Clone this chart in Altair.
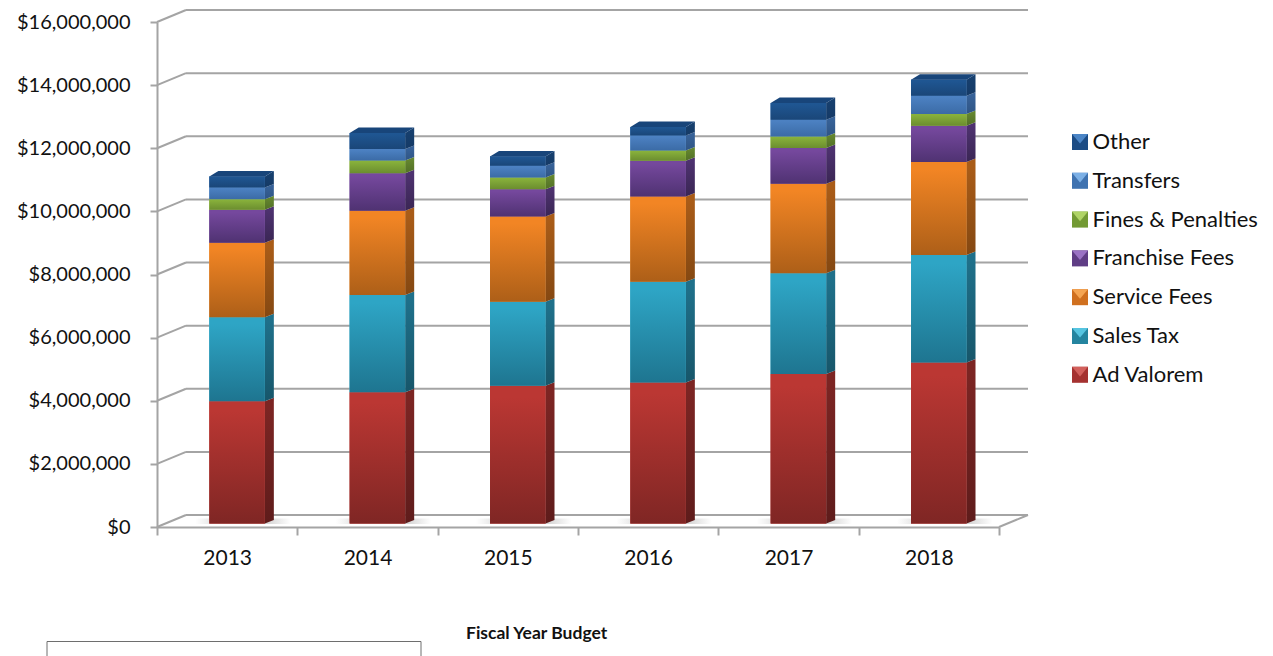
import altair as alt
import pandas as pd

YEARS = ["2013", "2014", "2015", "2016", "2017", "2018"]

AD_VALOREM = [3880000, 4165000, 4365000, 4473000, 4737000, 5108000]
SALES_TAX = [2655000, 3077000, 2665000, 3192000, 3193000, 3404000]
SERVICE_FEES = [2365000, 2674000, 2697000, 2695000, 2835000, 2941000]
FRANCHISE_FEES = [1040000, 1187000, 869000, 1134000, 1132000, 1152000]
FINES_PENALTIES = [340000, 400000, 368000, 326000, 368000, 371000]
TRANSFERS = [370000, 365000, 372000, 477000, 530000, 581000]
OTHER = [350000, 508000, 294000, 266000, 530000, 507000]

# series from the bottom of the stack upwards:
# name, values, front top, front bottom, side top, side bottom, legend base, legend highlight
SERIES = [
    ("Ad Valorem", AD_VALOREM, "#bb3733", "#7f2624", "#7c2523", "#5e1c1b", "#a53230", "#d2605c"),
    ("Sales Tax", SALES_TAX, "#2ea5c5", "#1e7590", "#1f708a", "#17566a", "#24849f", "#56c4e0"),
    ("Service Fees", SERVICE_FEES, "#f28524", "#ad5f18", "#a95c18", "#844812", "#d0701f", "#f5a552"),
    ("Franchise Fees", FRANCHISE_FEES, "#75489d", "#4f3272", "#4e3270", "#3a2654", "#5f3d85", "#9a72c4"),
    ("Fines & Penalties", FINES_PENALTIES, "#88b13b", "#6b8d2f", "#668830", "#527026", "#739a34", "#b0d466"),
    ("Transfers", TRANSFERS, "#4c81c2", "#3b6ba6", "#38639a", "#2f5585", "#3f72b0", "#7cb0e6"),
    ("Other", OTHER, "#1f5692", "#1a4678", "#17406f", "#153a66", "#1c4c85", "#4b85c6"),
]

PLOT_W, PLOT_H = 842, 505
Y_MAX = 16000000
PX_X = 6 / PLOT_W          # category units per pixel
PX_Y = Y_MAX / PLOT_H      # dollars per pixel

FONT = "Lato"
GRID = "#a4a4a4"
TICKS = list(range(0, Y_MAX + 1, 2000000))

x_scale = alt.Scale(domain=[0, 6], range=[0, PLOT_W], nice=False, zero=False)
y_scale = alt.Scale(domain=[0, Y_MAX], nice=False, zero=False)
y_axis = alt.Axis(title=None, values=TICKS, format="$,.0f", tickSize=7,
                  tickColor=GRID, tickWidth=2, domainColor=GRID, domainWidth=2,
                  labelFont=FONT, labelFontSize=20, labelColor="#111111",
                  labelPadding=20, grid=False)

# wall depth of the chart box
WALL_DX = 29 * PX_X
WALL_DY = 12 * PX_Y

# bar geometry
BAR_START = 0.373
BAR_W = 55.5 * PX_X
SIDE_DX = 9 * PX_X
SIDE_DY = 3.5 * PX_Y
TOP_DY = 5.5 * PX_Y
FLOOR_LIFT = 3.4 * PX_Y


def X(field):
    return alt.X(field, type="quantitative", scale=x_scale, axis=None)


def Y(field):
    return alt.Y(field, type="quantitative", scale=y_scale, axis=y_axis)


def v_gradient(top, bottom):
    return alt.Gradient(
        gradient="linear", x1=0, x2=0, y1=0, y2=1,
        stops=[alt.GradientStop(color=top, offset=0),
               alt.GradientStop(color=top, offset=0.08),
               alt.GradientStop(color=bottom, offset=1)],
    )


# stacked segments
front_rows, side_rows = [], []
for i, year in enumerate(YEARS):
    base = 0
    for s, (name, values, *_rest) in enumerate(SERIES):
        lo, hi = base, base + values[i]
        base = hi
        left = i + BAR_START
        right = left + BAR_W
        front_rows.append(dict(year=year, series=name, x0=left, x1=right,
                               y0=lo + FLOOR_LIFT, y1=hi + FLOOR_LIFT))
        back_hi = hi + FLOOR_LIFT + (TOP_DY if s == len(SERIES) - 1 else SIDE_DY)
        side_rows.append(dict(year=year, series=name, x=right, y0=lo + FLOOR_LIFT, y1=hi + FLOOR_LIFT))
        side_rows.append(dict(year=year, series=name, x=right + SIDE_DX,
                              y0=lo + FLOOR_LIFT + SIDE_DY, y1=back_hi))
front = pd.DataFrame(front_rows)
side = pd.DataFrame(side_rows)

top_rows = []
for i, year in enumerate(YEARS):
    total = sum(s[1][i] for s in SERIES) + FLOOR_LIFT
    left = i + BAR_START
    right = left + BAR_W
    top_rows.append(dict(year=year, y=total, x0=left, x1=right))
    top_rows.append(dict(year=year, y=total + TOP_DY, x0=left + SIDE_DX, x1=right + SIDE_DX))
top = pd.DataFrame(top_rows)

shadow = pd.DataFrame([
    dict(year=y, x0=i + BAR_START - 14 * PX_X, x1=i + BAR_START + BAR_W + 26 * PX_X,
         y0=FLOOR_LIFT * 0.9, y1=FLOOR_LIFT + 5 * PX_Y)
    for i, y in enumerate(YEARS)
])

# gridlines: back wall run and left wall slant for every tick, plus floor right edge
back_lines = pd.DataFrame([dict(x0=WALL_DX, x1=6 + WALL_DX, y=v + WALL_DY) for v in TICKS])
slants = pd.DataFrame(
    [dict(x0=0, x1=WALL_DX, y0=v, y1=v + WALL_DY) for v in TICKS]
    + [dict(x0=6, x1=6 + WALL_DX, y0=0, y1=WALL_DY)]
)
one_row = pd.DataFrame({"n": [0]})
year_df = pd.DataFrame({"year": YEARS})

layers = []

# year axis on a band scale, with ticks on the band edges
layers.append(
    alt.Chart(year_df).mark_point(opacity=0).encode(
        x=alt.X("year:O", scale=alt.Scale(range=[0, PLOT_W], paddingInner=0, paddingOuter=0),
                axis=alt.Axis(title=None, tickBand="extent", labelAngle=0, tickSize=8,
                              tickColor=GRID, tickWidth=2, domainColor=GRID, domainWidth=2,
                              labelFont=FONT, labelFontSize=21, labelColor="#111111",
                              labelPadding=12, grid=False)),
    )
)

layers.append(
    alt.Chart(back_lines).mark_rule(color=GRID, strokeWidth=2).encode(
        x=X("x0"), x2="x1:Q", y=Y("y"))
)
layers.append(
    alt.Chart(slants).mark_rule(color=GRID, strokeWidth=2).encode(
        x=X("x0"), x2="x1:Q", y=Y("y0"), y2="y1:Q")
)

layers.append(
    alt.Chart(shadow).mark_rect(
        color=alt.Gradient(gradient="linear", x1=0, x2=1, y1=0, y2=0,
                           stops=[alt.GradientStop(color="#ffffff", offset=0),
                                  alt.GradientStop(color="#d4d4d4", offset=0.3),
                                  alt.GradientStop(color="#d4d4d4", offset=0.75),
                                  alt.GradientStop(color="#ffffff", offset=1)])
    ).encode(x=X("x0"), x2="x1:Q", y=Y("y0"), y2="y1:Q")
)

# legend reads from the top of the stack down
legend_order = [s[0] for s in SERIES][::-1]
legend_base = [s[6] for s in SERIES][::-1]
legend_high = [s[7] for s in SERIES][::-1]
legend_common = dict(orient="none", legendX=912, legendY=109, title=None,
                     symbolSize=256, symbolStrokeWidth=0, symbolOpacity=1,
                     rowPadding=16.8, labelFont=FONT, labelFontSize=22,
                     labelLimit=300, labelColor="#111111", labelOffset=1.5)

layers.append(
    alt.Chart(front).mark_rect().encode(
        x=X("x0"), x2="x1:Q", y=Y("y0"), y2="y1:Q",
        color=alt.Color("series:N", sort=legend_order,
                        scale=alt.Scale(domain=legend_order, range=legend_base),
                        legend=alt.Legend(symbolType="square", **legend_common)),
    )
)
layers.append(
    alt.Chart(front).mark_rect().encode(
        x=X("x0"), x2="x1:Q", y=Y("y0"), y2="y1:Q",
        color=alt.Color("series:N", sort=legend_order,
                        scale=alt.Scale(domain=legend_order, range=legend_high),
                        legend=alt.Legend(symbolType="M-1,-1L1,-1L0,0.2Z", labelOpacity=0,
                                          **legend_common)),
    )
)

# shaded faces of each bar
for name, _vals, f_top, f_bot, s_top, s_bot, _b, _h in SERIES:
    f_df = front[front.series == name]
    s_df = side[side.series == name]
    layers.append(
        alt.Chart(s_df).mark_area(color=v_gradient(s_top, s_bot), orient="vertical").encode(
            x=X("x"), y=Y("y0"), y2="y1:Q", detail="year:N")
    )
    layers.append(
        alt.Chart(f_df).mark_rect(color=v_gradient(f_top, f_bot)).encode(
            x=X("x0"), x2="x1:Q", y=Y("y0"), y2="y1:Q")
    )

layers.append(
    alt.Chart(top).mark_area(color="#18457a", orient="horizontal").encode(
        y=Y("y"), x=X("x0"), x2="x1:Q", detail="year:N")
)

# note heading and the box beneath it, running off the bottom edge
layers.append(
    alt.Chart(one_row).mark_text(text="Fiscal Year Budget", font=FONT, fontSize=17.5,
                                 fontWeight="bold", align="left", baseline="alphabetic",
                                 color="#111111").encode(
        x=alt.value(309), y=alt.value(617))
)
layers.append(
    alt.Chart(one_row).mark_rect(fill="#ffffff", stroke="#6e6e6e", strokeWidth=1).encode(
        x=alt.value(-110), x2=alt.value(264), y=alt.value(619.5), y2=alt.value(660))
)

chart = (
    alt.layer(*layers)
    .resolve_scale(x="independent", color="independent")
    .resolve_legend(color="independent")
    .properties(
        width=PLOT_W, height=PLOT_H,
        padding={"left": 157, "top": 22, "right": 274, "bottom": 129},
        autosize=alt.AutoSizeParams(type="none"),
        background="#ffffff",
    )
    .configure_view(stroke=None)
)

chart.save("out.html", embed_options={"renderer": "svg", "actions": False})
